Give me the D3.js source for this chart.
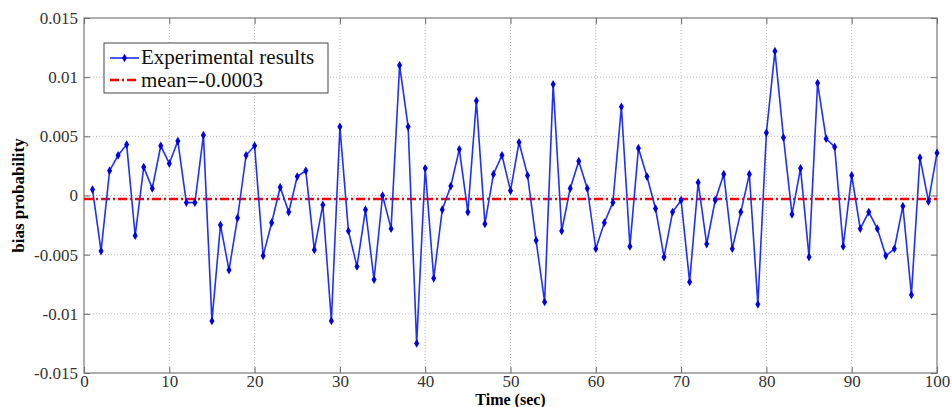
<!DOCTYPE html>
<html>
<head>
<meta charset="utf-8">
<script src="https://cdn.jsdelivr.net/npm/d3@7"></script>
<style>
  body { margin: 0; background: #fff; }
  svg text { font-family: "Liberation Serif", "Times New Roman", serif; }
</style>
</head>
<body>
<div id="chart"><svg></svg></div>
<script>
const width = 952;
const height = 407;

// bias probability sampled every second, t = 1..100
const times = d3.range(1, 101);
const bias = [
   0.0005, -0.0047,  0.0021,  0.0034,  0.0043, -0.0034,  0.0024,  0.0006,  0.0042,  0.0027,
   0.0046, -0.0006, -0.0006,  0.0051, -0.0106, -0.0025, -0.0063, -0.0019,  0.0034,  0.0042,
  -0.0051, -0.0023,  0.0007, -0.0014,  0.0016,  0.0021, -0.0046, -0.0008, -0.0106,  0.0058,
  -0.0030, -0.0060, -0.0012, -0.0071,  0.0000, -0.0028,  0.0110,  0.0058, -0.0125,  0.0023,
  -0.0070, -0.0012,  0.0008,  0.0039, -0.0014,  0.0080, -0.0024,  0.0018,  0.0034,  0.0004,
   0.0045,  0.0017, -0.0038, -0.0090,  0.0094, -0.0030,  0.0006,  0.0029,  0.0006, -0.0045,
  -0.0023, -0.0006,  0.0075, -0.0043,  0.0040,  0.0016, -0.0011, -0.0052, -0.0014, -0.0004,
  -0.0073,  0.0011, -0.0041, -0.0004,  0.0018, -0.0045, -0.0014,  0.0018, -0.0092,  0.0053,
   0.0122,  0.0049, -0.0016,  0.0023, -0.0052,  0.0095,  0.0048,  0.0041, -0.0043,  0.0017,
  -0.0028, -0.0014, -0.0028, -0.0051, -0.0045, -0.0009, -0.0084,  0.0032, -0.0005,  0.0036
];
const meanValue = -0.0003;
const xTicks = [0, 10, 20, 30, 40, 50, 60, 70, 80, 90, 100];
const yTicks = [-0.015, -0.01, -0.005, 0, 0.005, 0.01, 0.015];
const yTickLabels = ["-0.015", "-0.01", "-0.005", "0", "0.005", "0.01", "0.015"];
const legendLabels = ["Experimental results", "mean=-0.0003"];

const margin = {top: 18, right: 15, bottom: 34, left: 84};
const iw = width - margin.left - margin.right;
const ih = height - margin.top - margin.bottom;

const svg = d3.select("#chart").select("svg")
  .attr("width", width)
  .attr("height", height);

const x = d3.scaleLinear().domain([0, 100]).range([0, iw]);
const y = d3.scaleLinear().domain([-0.015, 0.015]).range([ih, 0]);

const g = svg.append("g").attr("transform", `translate(${margin.left},${margin.top})`);

// grid
g.append("g").selectAll("line").data(xTicks.slice(1, -1)).join("line")
  .attr("x1", d => x(d)).attr("x2", d => x(d))
  .attr("y1", 0).attr("y2", ih)
  .attr("stroke", "#bbb").attr("stroke-dasharray", "1,2");
g.append("g").selectAll("line").data(yTicks.slice(1, -1)).join("line")
  .attr("y1", d => y(d)).attr("y2", d => y(d))
  .attr("x1", 0).attr("x2", iw)
  .attr("stroke", "#bbb").attr("stroke-dasharray", "1,2");

// axes (ticks inside, box style)
const tickLen = 6;
g.append("g").attr("transform", `translate(0,${ih})`)
  .call(d3.axisBottom(x).tickValues(xTicks).tickSize(-tickLen).tickPadding(2).tickSizeOuter(0));
g.append("g")
  .call(d3.axisLeft(y).tickValues(yTicks).tickSize(-tickLen).tickPadding(6).tickSizeOuter(0)
    .tickFormat((d, i) => yTickLabels[i]));
g.append("g")
  .call(d3.axisTop(x).tickValues(xTicks).tickSize(-tickLen).tickFormat("").tickSizeOuter(0));
g.append("g").attr("transform", `translate(${iw},0)`)
  .call(d3.axisRight(y).tickValues(yTicks).tickSize(-tickLen).tickFormat("").tickSizeOuter(0));

g.selectAll(".domain").remove();
g.selectAll("g").attr("font-family", null);
g.selectAll(".tick line").attr("stroke", "#666");
g.selectAll(".tick text").attr("fill", "#333").attr("font-size", 17);

g.append("rect")
  .attr("width", iw).attr("height", ih)
  .attr("fill", "none").attr("stroke", "#777").attr("stroke-width", 1.2);

// mean line
g.append("line")
  .attr("x1", 0).attr("x2", iw)
  .attr("y1", y(meanValue)).attr("y2", y(meanValue))
  .attr("stroke", "#ff0000").attr("stroke-width", 2.5)
  .attr("stroke-dasharray", "9,3,2,3");

// data
const pts = times.map((t, i) => ({t, v: bias[i]}));
g.append("path").datum(pts)
  .attr("fill", "none").attr("stroke", "#1f2fff").attr("stroke-width", 1.6)
  .attr("d", d3.line().x(d => x(d.t)).y(d => y(d.v)));
g.append("g").selectAll("path").data(pts).join("path")
  .attr("transform", d => `translate(${x(d.t)},${y(d.v)})`)
  .attr("d", d3.symbol(d3.symbolDiamond, 22))
  .attr("fill", "#0000e6");

// axis titles
svg.append("text")
  .attr("x", margin.left + iw / 2).attr("y", 405)
  .attr("text-anchor", "middle")
  .style("font-size", "16px").style("font-weight", "bold")
  .text("Time (sec)");
svg.append("text")
  .attr("transform", `translate(24,${margin.top + y(0)}) rotate(-90)`)
  .attr("text-anchor", "middle")
  .style("font-size", "17px").style("font-weight", "bold")
  .text("bias probability");

// legend
const lg = svg.append("g").attr("transform", "translate(104,43)");
lg.append("rect").attr("width", 224).attr("height", 50)
  .attr("fill", "#fff").attr("stroke", "#444").attr("stroke-width", 1);
lg.append("line").attr("x1", 6).attr("x2", 35).attr("y1", 15).attr("y2", 15)
  .attr("stroke", "#1f2fff").attr("stroke-width", 1.6);
lg.append("path").attr("transform", "translate(20.5,15)")
  .attr("d", d3.symbol(d3.symbolDiamond, 22)).attr("fill", "#0000e6");
lg.append("line").attr("x1", 6).attr("x2", 35).attr("y1", 37).attr("y2", 37)
  .attr("stroke", "#ff0000").attr("stroke-width", 2.5).attr("stroke-dasharray", "9,3,2,3");
lg.selectAll("text.lbl").data(legendLabels).join("text")
  .attr("class", "lbl")
  .attr("x", 37).attr("y", (d, i) => 21 + i * 23)
  .style("font-size", "21px").attr("fill", "#111")
  .text(d => d);
</script>
</body>
</html>
